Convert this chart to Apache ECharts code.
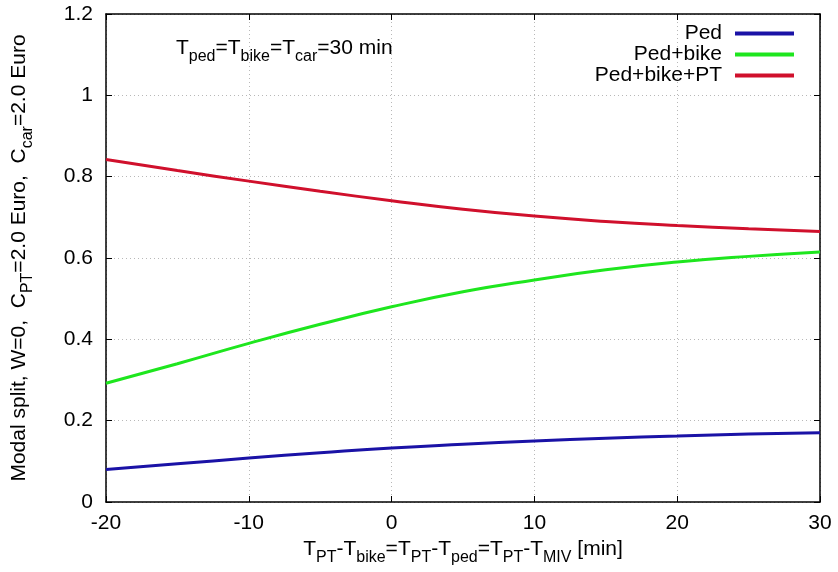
<!DOCTYPE html>
<html><head><meta charset="utf-8">
<script src="https://cdn.jsdelivr.net/npm/echarts@6/dist/echarts.min.js"></script>
<style>html,body{margin:0;padding:0;background:#fff}#c{width:838px;height:572px}</style>
</head><body><div id="c"></div>
<script>
const xValues = [-20,-15,-10,-5,0,5,10,15,20,25,30];
const pedValues = [0.080,0.094,0.108,0.121,0.133,0.142,0.150,0.157,0.162,0.167,0.170];
const pedBikeValues = [0.292,0.340,0.390,0.437,0.480,0.517,0.546,0.571,0.590,0.604,0.615];
const pedBikePTValues = [0.842,0.815,0.789,0.764,0.741,0.720,0.703,0.690,0.680,0.672,0.665];
const seriesNames = ['Ped','Ped+bike','Ped+bike+PT'];
const colors = ['#1a12a6','#1ee61e','#d0102c'];
const xTicks = [-20,-10,0,10,20,30];
const yTicks = [0,0.2,0.4,0.6,0.8,1,1.2];

const FONT = 'Liberation Sans';
const fs = 21;
const sub = {fontSize: 16, fontFamily: FONT, fontWeight:'normal', color:'#000', verticalAlign:'bottom', padding:[0,0,-6,0]};
const base = {fontSize: 21, fontFamily: FONT, fontWeight:'normal', color:'#000'};
const pairs = (arr) => xValues.map((x,i)=>[x,arr[i]]);
const dataSets = [pedValues, pedBikeValues, pedBikePTValues];

const chart = echarts.init(document.getElementById('c'), null, {renderer:'canvas'});
const grid = {left:106, right:18, top:14, bottom:70};
const commonX = {type:'value', min:-20, max:30, interval:10};
const commonY = {type:'value', min:0, max:1.2, interval:0.2};
chart.setOption({
  animation:false,
  backgroundColor:'#fff',
  title:{
    text:'{t|T}{s|ped}{t|=T}{s|bike}{t|=T}{s|car}{t|=30 min}',
    left:171, top:33,
    textStyle:{fontWeight:'normal', rich:{t:base, s:sub}}
  },
  legend: seriesNames.map((n,i)=>({
    data:[n], right:44, top:23+i*21, align:'right', orient:'vertical',
    itemWidth:59, itemHeight:4, itemGap:0, icon:'rect', padding:0,
    textStyle:{fontSize:21, fontFamily:FONT, color:'#000', padding:[0,8,0,0]}
  })),
  grid: grid,
  xAxis:[
    Object.assign({}, commonX, {
      position:'bottom',
      name:'{t|T}{s|PT}{t|-T}{s|bike}{t|=T}{s|PT}{t|-T}{s|ped}{t|=T}{s|PT}{t|-T}{s|MIV}{t| [min]}',
      nameLocation:'middle', nameGap:36,
      nameTextStyle:{rich:{t:base, s:sub}},
      axisLine:{show:true, onZero:false, lineStyle:{color:'#000', width:1.5}},
      axisTick:{show:true, inside:true, length:6, lineStyle:{color:'#000'}},
      axisLabel:{fontSize:fs, fontFamily:FONT, color:'#000', margin:11},
      splitLine:{show:true, lineStyle:{color:'#b8b8b8', type:[1,3], width:1}}
    }),
    Object.assign({}, commonX, {
      position:'top',
      axisLine:{show:true, onZero:false, lineStyle:{color:'#000', width:1.5}},
      axisTick:{show:true, inside:true, length:6, lineStyle:{color:'#000'}},
      axisLabel:{show:false}, splitLine:{show:false}
    })
  ],
  yAxis:[
    Object.assign({}, commonY, {
      position:'left',
      name:'{t|Modal split, W=0,  C}{s|PT}{t|=2.0 Euro,  C}{s|car}{t|=2.0 Euro}',
      nameLocation:'middle', nameGap:76, nameRotate:90,
      nameTextStyle:{rich:{t:base, s:sub}},
      axisLine:{show:true, onZero:false, lineStyle:{color:'#000', width:1.5}},
      axisTick:{show:true, inside:true, length:6, lineStyle:{color:'#000'}},
      axisLabel:{fontSize:fs, fontFamily:FONT, color:'#000', margin:13,
        formatter:(v)=>String(Math.round(v*10)/10)},
      splitLine:{show:true, lineStyle:{color:'#b8b8b8', type:[1,3], width:1}}
    }),
    Object.assign({}, commonY, {
      position:'right',
      axisLine:{show:true, onZero:false, lineStyle:{color:'#000', width:1.5}},
      axisTick:{show:true, inside:true, length:6, lineStyle:{color:'#000'}},
      axisLabel:{show:false}, splitLine:{show:false}
    })
  ],
  series: seriesNames.map((n,i)=>({
    name:n, type:'line', data:pairs(dataSets[i]), smooth:0.5,
    showSymbol:false, symbol:'none', color:colors[i],
    lineStyle:{width:3, color:colors[i]},
    xAxisIndex:0, yAxisIndex:0, z:3
  }))
});
</script></body></html>
